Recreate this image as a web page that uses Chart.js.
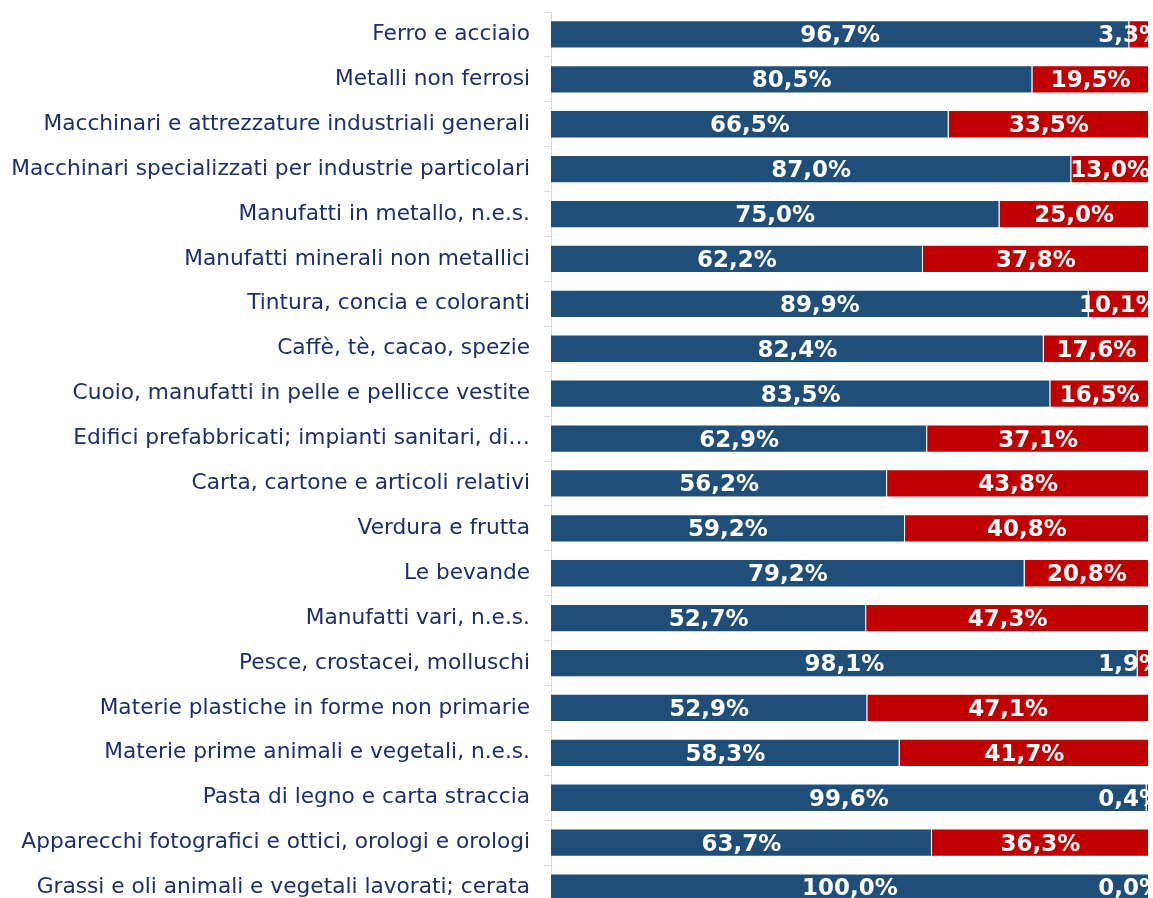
<!DOCTYPE html>
<html lang="it">
  <head>
    <meta charset="UTF-8" />
    <title>Quote per categoria</title>
    <script src="https://cdn.jsdelivr.net/npm/chart.js@4.4.0/dist/chart.umd.min.js"></script>
    <style>
      html, body { margin: 0; padding: 0; background: #fff; overflow: hidden; }
      #wrap { width: 1153px; height: 952px; margin-top: -15px; }
    </style>
  </head>
  <body>
    <div id="wrap"><canvas id="myChart"></canvas></div>

    <script>
    const categories = [
      'Ferro e acciaio',
      'Metalli non ferrosi',
      'Macchinari e attrezzature industriali generali',
      'Macchinari specializzati per industrie particolari',
      'Manufatti in metallo, n.e.s.',
      'Manufatti minerali non metallici',
      'Tintura, concia e coloranti',
      'Caffè, tè, cacao, spezie',
      'Cuoio, manufatti in pelle e pellicce vestite',
      'Edifici prefabbricati; impianti sanitari, di…',
      'Carta, cartone e articoli relativi',
      'Verdura e frutta',
      'Le bevande',
      'Manufatti vari, n.e.s.',
      'Pesce, crostacei, molluschi',
      'Materie plastiche in forme non primarie',
      'Materie prime animali e vegetali, n.e.s.',
      'Pasta di legno e carta straccia',
      'Apparecchi fotografici e ottici, orologi e orologi',
      'Grassi e oli animali e vegetali lavorati; cerata'
    ];
    const blueValues = [96.7, 80.5, 66.5, 87.0, 75.0, 62.2, 89.9, 82.4, 83.5, 62.9,
                        56.2, 59.2, 79.2, 52.7, 98.1, 52.9, 58.3, 99.6, 63.7, 100.0];
    const redValues  = [3.3, 19.5, 33.5, 13.0, 25.0, 37.8, 10.1, 17.6, 16.5, 37.1,
                        43.8, 40.8, 20.8, 47.3, 1.9, 47.1, 41.7, 0.4, 36.3, 0.0];

    // labels in the middle of each piece, pushed left when they would run off the right edge
    const barLabels = {
      id: 'barLabels',
      afterDatasetsDraw(chart) {
        const ctx = chart.ctx;
        const right = chart.chartArea.right;
        ctx.save();
        ctx.font = 'bold 23px "DejaVu Sans"';
        ctx.fillStyle = '#fff';
        ctx.textAlign = 'center';
        ctx.textBaseline = 'middle';
        chart.data.datasets.forEach((ds, i) => {
          chart.getDatasetMeta(i).data.forEach((bar, j) => {
            const txt = ds.data[j].toFixed(1).replace('.', ',') + '%';
            const w = ctx.measureText(txt).width;
            let x = (bar.x + bar.base) / 2;
            x = Math.min(x, right + 13 - w / 2);
            ctx.fillText(txt, x, bar.y + 2);
          });
        });
        ctx.restore();
      }
    };

    const ctx = document.getElementById('myChart').getContext('2d');
    const myChart = new Chart(ctx, {
      type: 'bar',
      data: {
        labels: categories,
        datasets: [
          {
            data: blueValues,
            backgroundColor: '#1F4E79',
            borderColor: 'rgba(255,255,255,0.45)',
            borderWidth: 1,
            categoryPercentage: 1,
            barPercentage: 0.63
          },
          {
            data: redValues,
            backgroundColor: '#C00000',
            borderColor: 'rgba(255,255,255,0.45)',
            borderWidth: 1,
            categoryPercentage: 1,
            barPercentage: 0.63
          }
        ]
      },
      plugins: [barLabels],
      options: {
        indexAxis: 'y',
        responsive: true,
        maintainAspectRatio: false,
        animation: false,
        layout: { padding: { top: 0, right: 4, bottom: 0, left: 0 } },
        plugins: {
          legend: { display: false },
          tooltip: { enabled: false }
        },
        scales: {
          x: {
            stacked: true,
            min: 0,
            max: 100,
            display: false
          },
          y: {
            stacked: true,
            afterFit: (s) => { s.width = 551; },
            border: { color: '#d9d9d9', width: 1 },
            grid: {
              offset: true,
              drawOnChartArea: false,
              color: '#d9d9d9',
              tickLength: 7
            },
            ticks: {
              color: '#1B2F6E',
              padding: 14,
              font: { family: '"DejaVu Sans"', size: 21.7 }
            }
          }
        }
      }
    });
    </script>
  </body>
</html>
